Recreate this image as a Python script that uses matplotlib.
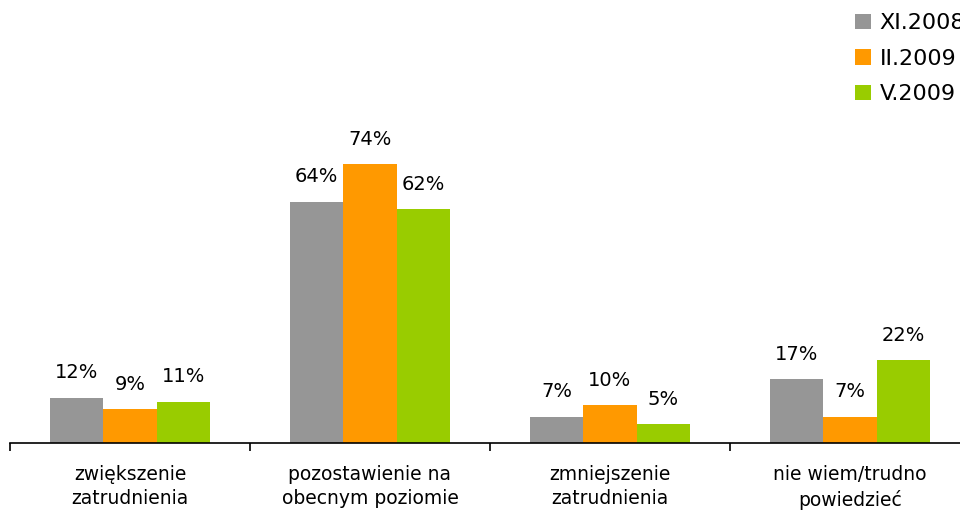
import matplotlib.pyplot as plt
import numpy as np

# Dane
kategorie = ["zwiększenie\nzatrudnienia", "pozostawienie na\nobecnym poziomie",
             "zmniejszenie\nzatrudnienia", "nie wiem/trudno\npowiedzieć"]
serie = ["XI.2008", "II.2009", "V.2009"]
xi_2008 = [12, 64, 7, 17]
ii_2009 = [9, 74, 10, 7]
v_2009 = [11, 62, 5, 22]
kolory = ["#969696", "#FF9900", "#99CC00"]

fig = plt.figure(figsize=(9.6, 5.13), dpi=100)
ax = fig.add_axes([10 / 960, 70 / 513, 960 / 960, 301.6 / 513])

x = np.arange(len(kategorie))
szer = 0.222
for i, (wartosci, nazwa) in enumerate(zip([xi_2008, ii_2009, v_2009], serie)):
    pos = x + (i - 1) * szer
    bary = ax.bar(pos, wartosci, width=szer, color=kolory[i], label=nazwa, linewidth=0)
    for b, v in zip(bary, wartosci):
        ax.annotate(f"{v}%", (b.get_x() + b.get_width() / 2, v), xytext=(0, 11),
                    textcoords="offset points", ha="center", va="bottom", fontsize=14)

ax.set_xlim(-0.5, 3.5)
ax.set_ylim(0, 80)
ax.set_yticks([])
for s in ["left", "right", "top"]:
    ax.spines[s].set_visible(False)
ax.spines["bottom"].set_linewidth(1.2)

ax.set_xticks(np.arange(-0.5, 4.0, 1.0))
ax.set_xticklabels([])
ax.tick_params(axis="x", which="major", direction="out", length=6, width=1.2)
ax.set_xticks(x, minor=True)
ax.set_xticklabels(kategorie, minor=True, fontsize=13.5, linespacing=1.35)
ax.tick_params(axis="x", which="minor", length=0, pad=16)

fig.legend(loc="upper left", bbox_to_anchor=(842 / 960, 1.0), frameon=False,
           fontsize=16, handlelength=0.7, handleheight=0.7, handletextpad=0.4,
           labelspacing=0.7, borderaxespad=0.2)

fig.savefig("out.png", dpi=100)
